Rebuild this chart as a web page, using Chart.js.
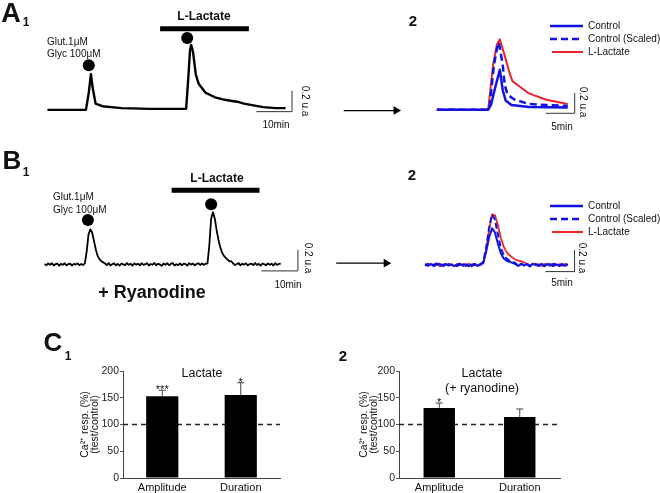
<!DOCTYPE html>
<html>
<head>
<meta charset="utf-8">
<title>L-Lactate and NMDA-evoked Ca2+ responses</title>
<script src="https://cdn.jsdelivr.net/npm/chart.js"></script>
<style>
  body { margin: 0; background: #fff; }
  #fig { position: relative; width: 660px; height: 493px; overflow: hidden;
         font-family: "Liberation Sans", Arial, sans-serif; color: #111; }
  #fig canvas, #fig svg { position: absolute; }
  .lbl { position: absolute; white-space: nowrap; line-height: 1; transform: translate(-50%, -50%); }
  .lbl.left { transform: translate(0, -50%); }
  .lbl.rot { transform: translate(-50%, -50%) rotate(90deg); }
  .b { font-weight: bold; }
</style>
</head>
<body>
<div id="fig">
  <canvas id="a1" width="330" height="135" style="left:0;top:0"></canvas>
  <canvas id="a2" width="330" height="135" style="left:330px;top:0"></canvas>
  <canvas id="b1" width="330" height="160" style="left:0;top:140px"></canvas>
  <canvas id="b2" width="330" height="160" style="left:330px;top:140px"></canvas>
  <canvas id="c1" width="240" height="140" style="left:60px;top:355px"></canvas>
  <canvas id="c2" width="244" height="140" style="left:336px;top:355px"></canvas>

  <!-- A -->
  <div class="lbl b" style="left:11px;top:13px;font-size:27px">A</div>
  <div class="lbl b" style="left:26px;top:22px;font-size:12px">1</div>
  <div class="lbl b" style="left:204px;top:16px;font-size:12px">L-Lactate</div>
  <div class="lbl left" style="left:47px;top:42px;font-size:10px">Glut.1μM</div>
  <div class="lbl left" style="left:47px;top:54px;font-size:10px">Glyc 100μM</div>
  <div class="lbl" style="left:276px;top:125px;font-size:10px">10min</div>
  <div class="lbl rot" style="left:305px;top:101px;font-size:10px">0.2 u.a</div>
  <div class="lbl b" style="left:413px;top:20px;font-size:15px">2</div>
  <div class="lbl" style="left:562px;top:127px;font-size:10px">5min</div>
  <div class="lbl rot" style="left:583px;top:102px;font-size:10px">0.2 u.a</div>

  <!-- B -->
  <div class="lbl b" style="left:12px;top:160px;font-size:26px">B</div>
  <div class="lbl b" style="left:26px;top:172px;font-size:12px">1</div>
  <div class="lbl b" style="left:217px;top:178px;font-size:12px">L-Lactate</div>
  <div class="lbl left" style="left:53px;top:197px;font-size:10px">Glut.1μM</div>
  <div class="lbl left" style="left:53px;top:210px;font-size:10px">Glyc 100μM</div>
  <div class="lbl" style="left:288px;top:285px;font-size:10px">10min</div>
  <div class="lbl rot" style="left:308px;top:258px;font-size:10px">0.2 u.a</div>
  <div class="lbl b" style="left:152px;top:292px;font-size:18px">+ Ryanodine</div>
  <div class="lbl b" style="left:412px;top:174px;font-size:15px">2</div>
  <div class="lbl" style="left:562px;top:283px;font-size:10px">5min</div>
  <div class="lbl rot" style="left:582px;top:258px;font-size:10px">0.2 u.a</div>

  <!-- C -->
  <div class="lbl b" style="left:53px;top:342px;font-size:26px">C</div>
  <div class="lbl b" style="left:68px;top:356px;font-size:12px">1</div>
  <div class="lbl" style="left:202px;top:373px;font-size:12.5px">Lactate</div>
  <div class="lbl b" style="left:343px;top:355px;font-size:15px">2</div>
  <div class="lbl" style="left:482px;top:373px;font-size:12.5px">Lactate</div>
  <div class="lbl" style="left:482px;top:388px;font-size:12.5px">(+ ryanodine)</div>
</div>

<script>
Chart.defaults.font.family = '"Liberation Sans", Arial, sans-serif';
Chart.defaults.color = '#111';

const BLUE = '#1212e4';
const RED = '#e8262b';

// legend of the overlay panels (A2, B2)
const overlayNames = ['Control', 'Control (Scaled)', 'L-Lactate'];

// ---------- A1 : Glut/Glyc responses, control then in L-lactate (min, u.a) ----------
const a1Time  = [0, 10.8, 11.6, 12.2, 12.7, 13.5, 15.4, 20.8, 28.9, 38.9, 39.5, 40.0, 40.3, 40.8,
                 41.6, 42.4, 44.3, 47.0, 49.2, 51.4, 53.2, 55.1, 57.8, 60.5, 64.1, 66.8];
const a1Trace = [0, 0, 0.165, 0.34, 0.21, 0.06, 0.035, 0.017, 0.009, 0.009, 0.30, 0.57, 0.62, 0.56,
                 0.34, 0.25, 0.165, 0.12, 0.10, 0.087, 0.078, 0.06, 0.043, 0.026, 0.017, 0.017];
const a1StimTime  = [11.6, 39.2];
const a1StimLevel = [0.426, 0.687];
const a1Lactate   = [31.6, 56.5];
const a1LactateLevel = 0.774;

// ---------- A2 : superimposed responses ----------
const a2CtrlTime   = [0, 8.83, 9.33, 10.0, 10.83, 11.33, 11.83, 12.83, 15.83, 22.5];
const a2Ctrl       = [0, 0, 0.05, 0.21, 0.39, 0.19, 0.09, 0.045, 0.025, 0.02];
const a2ScaledTime = [0, 9.0, 9.83, 10.33, 10.67, 11.33, 11.67, 12.17, 13.33, 15.83, 19.17, 22.5];
const a2Scaled     = [0, 0, 0.44, 0.6, 0.66, 0.44, 0.24, 0.145, 0.10, 0.055, 0.045, 0.036];
const a2LacTime    = [0, 8.83, 9.67, 10.33, 10.83, 11.67, 12.5, 13.0, 14.17, 15.83, 18.67, 20.33, 22.5];
const a2Lac        = [0, 0, 0.44, 0.64, 0.69, 0.53, 0.36, 0.28, 0.23, 0.16, 0.10, 0.08, 0.055];

// ---------- B1 : same protocol with ryanodine, sampled every 0.5 min ----------
const b1Step = 0.5;
const b1Trace = [
  0.004, -0.008, 0.010, -0.003, 0.012, -0.010, 0.002, 0.009, -0.012, 0.006, -0.004,
  0.011, -0.009, 0.003, 0.008, -0.011, 0.005, -0.002, 0.010, -0.007, 0.004, -0.006,
  0.01, 0.12, 0.28, 0.33, 0.30, 0.22, 0.14, 0.08, 0.05, 0.03, 0.02,
  0.008, -0.006, 0.012, -0.010, 0.003, 0.010, -0.008, 0.005, -0.012, 0.009,
  0.001, -0.007, 0.013, -0.004, 0.006, -0.011, 0.010, -0.002, 0.007, -0.009,
  0.012, -0.005, 0.003, 0.011, -0.010, 0.004, -0.003, 0.014, -0.008, 0.006,
  0.000, -0.012, 0.009, -0.004, 0.011, -0.007, 0.005, 0.013, -0.010, 0.002,
  -0.006, 0.010, -0.009, 0.007, 0.003, -0.011, 0.012, -0.002, 0.008, -0.008,
  0.004, 0.011, -0.005, 0.009, -0.003, 0.006,
  0.01, 0.18, 0.43, 0.49, 0.43, 0.32, 0.23, 0.16, 0.11, 0.08, 0.06, 0.045, 0.03, 0.03,
  0.010, -0.006, 0.004, 0.012, -0.009, 0.006, -0.002, 0.011, -0.010, 0.003,
  0.008, -0.007, 0.013, -0.004, 0.005, -0.011, 0.009, 0.002, -0.008, 0.010,
  -0.003, 0.007, -0.010, 0.012, -0.005, 0.004, 0.008
];
const b1StimTime  = [11.84, 45.5];
const b1StimLevel = [0.417, 0.565];
const b1Lactate   = [34.7, 58.7];
const b1LactateLevel = 0.696;

// ---------- B2 : superimposed responses with ryanodine, every 0.5 min ----------
const b2Step = 0.5;
const b2Ctrl = [
  0.010, -0.004, 0.007, -0.011, 0.003, 0.012, -0.008, 0.009, -0.002, 0.006,
  -0.010, 0.004, 0.011, -0.007, 0.008, -0.012, 0.005, 0.010, -0.006, 0.002,
  0.02, 0.13, 0.26, 0.34, 0.30, 0.20, 0.11, 0.06, 0.04, 0.03, 0.02,
  0.008, -0.009, 0.011, -0.003, 0.006, -0.012, 0.009, 0.002, -0.007, 0.012,
  -0.005, 0.004, 0.010, -0.010, 0.006, -0.002, 0.011, -0.008, 0.005
];
const b2Scaled = [
  -0.008, 0.012, -0.011, 0.006, 0.014, -0.009, 0.004, -0.013, 0.010, -0.002,
  0.011, -0.010, 0.007, 0.013, -0.006, 0.002, -0.012, 0.009, -0.004, 0.010,
  0.03, 0.17, 0.35, 0.47, 0.42, 0.28, 0.16, 0.09, 0.06, 0.04, 0.03, 0.02,
  -0.010, 0.012, -0.004, 0.014, -0.011, 0.006, 0.010, -0.008, 0.003,
  -0.012, 0.011, -0.005, 0.008, 0.013, -0.009, 0.004, -0.006, 0.009
];
const b2Lac = [
  0.006, -0.010, 0.012, -0.004, 0.009, -0.012, 0.003, 0.011, -0.007, 0.005,
  -0.011, 0.010, -0.002, 0.008, -0.009, 0.013, -0.005, 0.004, -0.008, 0.007,
  0.02, 0.15, 0.33, 0.47, 0.46, 0.37, 0.25, 0.17, 0.12, 0.09, 0.07, 0.05, 0.04, 0.035, 0.025,
  0.012, -0.006, 0.015, -0.003, 0.009, -0.010, 0.011, 0.002, -0.008, 0.013,
  -0.004, 0.007, -0.009, 0.010, 0.001
];

// scale bars (min, u.a)
const barMinutesLong = 10;
const barMinutesShort = 5;
const barAmplitude = 0.2;

// ---------- C : Ca2+ response test/control (%) ----------
const measures   = ['Amplitude', 'Duration'];
const c1Mean     = [153, 155];
const c1Err      = [11, 23];
const c1Stars    = ['***', '*'];
const c2Mean     = [131, 114];
const c2Err      = [9, 15];
const c2Stars    = ['*', ''];
const refLevel   = 100;

// ---------- helpers ----------
function pts(xs, ys) { return xs.map((x, i) => ({ x: x, y: ys[i] })); }
function sampled(ys, step) { return ys.map((y, i) => ({ x: i * step, y: y })); }

function line(data, color, width, dash) {
  return {
    data: data, showLine: true, borderColor: color, borderWidth: width,
    borderDash: dash || [], pointRadius: 0, pointHoverRadius: 0,
    borderJoinStyle: 'round', borderCapStyle: 'butt', tension: 0
  };
}

// horizontal bar (time) ending at x1, then vertical bar (amplitude) going up
function scaleBar(x1, minutes, y0) {
  return line([{ x: x1 - minutes, y: y0 }, { x: x1, y: y0 }, { x: x1, y: y0 + barAmplitude }], '#333', 1);
}

function dots(xs, ys) {
  return { data: pts(xs, ys), showLine: false, pointRadius: 6, pointBackgroundColor: '#000', pointBorderWidth: 0 };
}

function drugBar(span, level) {
  return line([{ x: span[0], y: level }, { x: span[1], y: level }], '#000', 5);
}

function arrow(span, level) {
  return {
    data: [{ x: span[0], y: level }, { x: span[1], y: level }], showLine: true,
    borderColor: '#000', borderWidth: 1.2, pointRadius: [0, 5], pointStyle: 'triangle',
    pointRotation: 90, pointBackgroundColor: '#000', pointBorderWidth: 0
  };
}

function traceChart(id, xRange, yRange, datasets) {
  return new Chart(document.getElementById(id), {
    type: 'scatter',
    data: { datasets: datasets },
    options: {
      responsive: false, animation: false, events: [],
      layout: { padding: 0 },
      plugins: { legend: { display: false }, tooltip: { enabled: false } },
      scales: {
        x: { type: 'linear', display: false, min: xRange[0], max: xRange[1] },
        y: { type: 'linear', display: false, min: yRange[0], max: yRange[1] }
      }
    }
  });
}

// legend keys drawn as small svg strokes next to html labels
function overlayLegend(x, ys) {
  const fig = document.getElementById('fig');
  const styles = [[BLUE, ''], [BLUE, '7 4'], [RED, '']];
  ys.forEach((y, i) => {
    const svg = document.createElementNS('http://www.w3.org/2000/svg', 'svg');
    svg.setAttribute('width', 34); svg.setAttribute('height', 6);
    svg.style.left = x + 'px'; svg.style.top = (y - 3) + 'px';
    const ln = document.createElementNS('http://www.w3.org/2000/svg', 'line');
    ln.setAttribute('x1', i === 2 ? 2 : 0); ln.setAttribute('x2', 33);
    ln.setAttribute('y1', 3); ln.setAttribute('y2', 3);
    ln.setAttribute('stroke', styles[i][0]); ln.setAttribute('stroke-width', i === 2 ? 2 : 2.5);
    if (styles[i][1]) ln.setAttribute('stroke-dasharray', styles[i][1]);
    svg.appendChild(ln);
    fig.appendChild(svg);
    const t = document.createElement('div');
    t.className = 'lbl left';
    t.style.left = (x + 38) + 'px'; t.style.top = y + 'px'; t.style.fontSize = '10px';
    t.textContent = overlayNames[i];
    fig.appendChild(t);
  });
}

// ---------- A ----------
traceChart('a1', [-11.62, 77.57], [-0.1826, 0.9913], [
  line(pts(a1Time, a1Trace), '#000', 2.4),
  dots(a1StimTime, a1StimLevel),
  drugBar(a1Lactate, a1LactateLevel),
  scaleBar(68.6, barMinutesLong, -0.017)
]);

traceChart('a2', [-17.5, 37.5], [-0.2, 1.027], [
  line(pts(a2CtrlTime, a2Ctrl), BLUE, 2.5),
  line(pts(a2ScaledTime, a2Scaled), BLUE, 2.5, [7, 4]),
  line(pts(a2LacTime, a2Lac), RED, 2),
  scaleBar(23.7, barMinutesShort, -0.036),
  arrow([-16, -7], -0.009)
]);
overlayLegend(550, [26, 39, 52]);

// ---------- B ----------
traceChart('b1', [-10.53, 76.32], [-0.278, 1.113], [
  line(sampled(b1Trace, b1Step), '#000', 1.8),
  dots(b1StimTime, b1StimLevel),
  drugBar(b1Lactate, b1LactateLevel),
  scaleBar(69.2, barMinutesLong, -0.061)
]);

traceChart('b2', [-15.5, 39.5], [-0.278, 1.113], [
  line(sampled(b2Ctrl, b2Step), BLUE, 2),
  line(sampled(b2Scaled, b2Step), BLUE, 2, [6, 3]),
  line(sampled(b2Lac, b2Step), RED, 1.8),
  scaleBar(25.67, barMinutesShort, -0.061),
  arrow([-15.3, -6.7], 0.017)
]);
overlayLegend(550, [206, 219, 232]);

// ---------- C ----------
const errBars = {
  id: 'errBars',
  beforeDatasetsDraw(chart, args, opts) {
    const { ctx, chartArea, scales: { y } } = chart;
    const yr = y.getPixelForValue(refLevel);
    ctx.save();
    ctx.strokeStyle = '#222';
    ctx.lineWidth = 1.3;
    ctx.setLineDash([5, 4]);
    ctx.beginPath();
    ctx.moveTo(chartArea.left, yr);
    ctx.lineTo(chartArea.right, yr);
    ctx.stroke();
    ctx.restore();
  },
  afterDatasetsDraw(chart, args, opts) {
    const { ctx, scales: { y } } = chart;
    const meta = chart.getDatasetMeta(0);
    ctx.save();
    meta.data.forEach((bar, i) => {
      const top = y.getPixelForValue(opts.means[i] + opts.errs[i]);
      ctx.strokeStyle = '#444';
      ctx.lineWidth = 1;
      ctx.beginPath();
      ctx.moveTo(bar.x, bar.y);
      ctx.lineTo(bar.x, top);
      ctx.moveTo(bar.x - 3.5, top);
      ctx.lineTo(bar.x + 3.5, top);
      ctx.stroke();
      if (opts.stars[i]) {
        ctx.fillStyle = '#111';
        ctx.font = '11px "Liberation Sans", Arial, sans-serif';
        ctx.textAlign = 'center';
        ctx.textBaseline = 'alphabetic';
        ctx.fillText(opts.stars[i], bar.x, top + 3);
      }
    });
    ctx.restore();
  }
};

function barChart(id, means, errs, stars, barPct, titlePad) {
  return new Chart(document.getElementById(id), {
    type: 'bar',
    data: {
      labels: measures,
      datasets: [{ data: means, backgroundColor: '#000', borderWidth: 0,
                   barPercentage: barPct, categoryPercentage: 1 }]
    },
    options: {
      responsive: false, animation: false, events: [],
      layout: { padding: { top: 16, right: 20, left: 0, bottom: 0 } },
      plugins: {
        legend: { display: false }, tooltip: { enabled: false },
        errBars: { means: means, errs: errs, stars: stars }
      },
      scales: {
        x: {
          grid: { display: false, drawTicks: false },
          border: { display: true, color: '#444' },
          ticks: { padding: 3, font: { size: 11 }, color: '#111' },
          afterFit: s => { s.height = 17; }
        },
        y: {
          min: 0, max: 200,
          ticks: { stepSize: 50, padding: 1, font: { size: 10.5 }, color: '#222' },
          grid: { drawOnChartArea: false, tickLength: 3, color: '#555' },
          border: { display: true, color: '#444' },
          title: {
            display: true, text: ['Ca²⁺ resp. (%)', '(test/control)'], color: '#111',
            font: { size: 10.5, lineHeight: 1 }, padding: { top: titlePad, bottom: 0 }
          },
          afterFit: s => { s.width = 63; }
        }
      }
    },
    plugins: [errBars]
  });
}

barChart('c1', c1Mean, c1Err, c1Stars, 0.41, 19.5);
barChart('c2', c2Mean, c2Err, c2Stars, 0.39, 22.5);
</script>
</body>
</html>
